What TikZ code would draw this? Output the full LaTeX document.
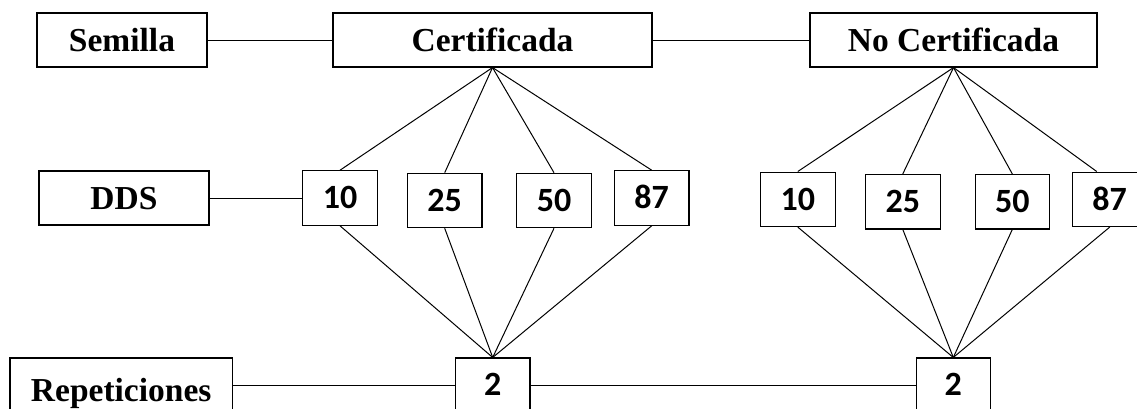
\documentclass[tikz,border=0pt]{standalone}
\usepackage{fontspec}
\setmainfont{Liberation Serif}
\newfontfamily\numfont{Carlito}
\begin{document}
\begin{tikzpicture}[x=1pt,y=-1pt,
  box/.style={draw=black, line width=1.1pt, inner sep=0pt, text height=22pt, text depth=0pt, fill=white},
  lbl/.style={box, font=\fontsize{33.5}{40}\selectfont\bfseries},
  num/.style={box, minimum width=74.5pt, minimum height=54.5pt, font=\numfont\fontsize{34}{40}\selectfont\bfseries, text height=21.5pt},
  link/.style={line width=1pt, black}]
\useasboundingbox (0,0) rectangle (1137,408);
\clip (0,0) rectangle (1137,408);
% top row
\node[lbl, minimum width=170pt, minimum height=54pt] (sem) at (122,40) {Semilla};
\node[lbl, minimum width=319pt, minimum height=54pt] (cert) at (492.5,40) {Certificada};
\node[lbl, minimum width=287pt, minimum height=54pt] (ncert) at (953.5,40) {No Certificada};
% middle row
\node[lbl, minimum width=170pt, minimum height=54pt] (dds) at (124,198) {DDS};
\node[num] (c10) at (340,198) {10};
\node[num] (c25) at (444.7,200.5) {25};
\node[num] (c50) at (554,200.5) {50};
\node[num] (c87) at (651.7,198) {87};
\node[num] (n10) at (797.8,199.3) {10};
\node[num] (n25) at (902.8,201.7) {25};
\node[num] (n50) at (1012.3,201.7) {50};
\node[num] (n87) at (1109.7,199.3) {87};
% bottom row
\node[lbl, minimum width=222.5pt, minimum height=54pt] (rep) at (121.2,385) {\raisebox{-5pt}{Repeticiones}};
\node[num, minimum height=54pt] (c2) at (492.7,385) {2};
\node[num, minimum height=54pt] (n2) at (953.3,385) {2};
% connectors
\draw[link] (sem) -- (cert);
\draw[link] (cert) -- (ncert);
\draw[link] (dds) -- (c10);
\draw[link] (rep) -- (c2);
\draw[link] (c2) -- (n2);
\foreach \n in {c10,c25,c50,c87}{
  \draw[link] (cert.south) -- (\n.north);
  \draw[link] (\n.south) -- (c2.north);
}
\foreach \n in {n10,n25,n50}{
  \draw[link] (ncert.south) -- (\n.north);
  \draw[link] (\n.south) -- (n2.north);
}
\draw[link] (ncert.south) -- ([xshift=-13pt]n87.north);
\draw[link] (n87.south) -- (n2.north);
\end{tikzpicture}
\end{document}
